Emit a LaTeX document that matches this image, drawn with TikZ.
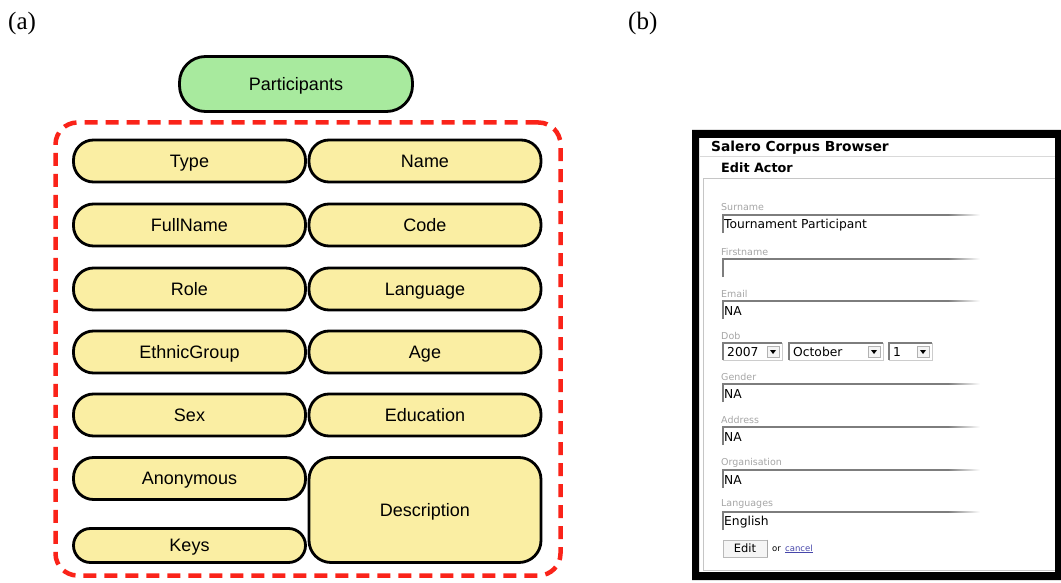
\documentclass[tikz,border=0pt]{standalone}
\usepackage{fontspec}
\setmainfont{Liberation Serif}
\newfontfamily\diafont{Liberation Sans}
\newfontfamily\webfont{DejaVu Sans}
\definecolor{fieldyellow}{RGB}{250,238,163}
\definecolor{entitygreen}{RGB}{168,234,158}
\definecolor{groupred}{RGB}{250,35,25}
\definecolor{labelgray}{RGB}{165,165,165}
\definecolor{edgegray}{RGB}{125,125,125}
\definecolor{linkblue}{RGB}{70,70,170}

% one text input of the form: name, label, y of its top edge, value
\newcommand\inputfield[4]{%
  \node[formlabel] (#1-label) at (721,#3-7.5) {#2};
  \draw[inputedge] (723,#3+18) -- (723,#3) -- (948,#3);
  \shade[left color=edgegray, right color=white] (948,#3-0.6) rectangle (980,#3+0.6);
  \node[formvalue] (#1-value) at (724,#3+10) {#4};
}
% one drop-down list: name, left x, right x, value
\newcommand\dropdown[4]{%
  \draw[inputedge] (#2,360) -- (#2,343) -- (#3,343);
  \draw[gray!40, line width=0.8pt] (#3,343) -- (#3,360) -- (#2,360);
  \draw[gray!60, fill=gray!8, line width=0.6pt] (#3-15,346) rectangle (#3-3,357);
  \fill (#3-12,350) -- (#3-6,350) -- (#3-9,354) -- cycle;
  \node[formvalue] (#1) at (#2+4,352) {#4};
}

\begin{document}
\begin{tikzpicture}[x=1pt,y=-1pt,
  panel/.style={font=\diafont\fontsize{18}{20}\selectfont, text=black, align=center, inner sep=0pt,
    text height=12.9pt, text depth=0pt},
  field/.style={panel, draw=black, line width=2.8pt, fill=fieldyellow, rounded corners=20pt,
    minimum width=232pt, minimum height=42pt},
  entity/.style={panel, draw=black, line width=2.8pt, fill=entitygreen, rounded corners=26pt,
    minimum width=233pt, minimum height=55pt},
  group/.style={draw=groupred, line width=4.5pt, dash pattern=on 13pt off 8pt, rounded corners=22pt,
    minimum width=505pt, minimum height=453pt, inner sep=0pt},
  caption/.style={font=\fontsize{25}{28}\selectfont, inner sep=0pt, anchor=base west},
  formlabel/.style={font=\webfont\fontsize{9.5}{11}\selectfont, text=labelgray, anchor=west, inner sep=0pt},
  formvalue/.style={font=\webfont\fontsize{12.3}{14}\selectfont, text=black, anchor=west, inner sep=0pt},
  inputedge/.style={draw=edgegray, line width=1.1pt},
]
\useasboundingbox (0,0) rectangle (1061,583);

% captions
\node[caption] (capa) at (8,30) {(a)};
\node[caption] (capb) at (628,30) {(b)};

% (a) the Participants entity and its fields
\node[entity] (participants) at (296,84) {Participants};
\node[group] (fields) at (308,349) {};

\node[field] (type)      at (189.5,161) {Type};
\node[field] (name)      at (425,161)   {Name};
\node[field] (fullname)  at (189.5,225) {FullName};
\node[field] (code)      at (425,225)   {Code};
\node[field] (role)      at (189.5,289) {Role};
\node[field] (language)  at (425,289)   {Language};
\node[field] (ethnic)    at (189.5,352) {EthnicGroup};
\node[field] (age)       at (425,352)   {Age};
\node[field] (sex)       at (189.5,415) {Sex};
\node[field] (education) at (425,415)   {Education};
\node[field] (anonymous) at (189.5,478.5) {Anonymous};
\node[field, minimum height=34pt, rounded corners=17pt] (keys) at (189.5,545.5) {Keys};
\node[field, minimum height=105pt, rounded corners=22pt] (description) at (425,510) {Description};

% (b) the edit form of the corpus browser
\fill[black, even odd rule] (692,130) rectangle (1061,580) (699,138) rectangle (1055,572);
\draw[gray!30, line width=0.8pt] (700,156) -- (1055,156);
\node[font=\webfont\bfseries\fontsize{13.8}{15}\selectfont, anchor=west, inner sep=0pt] (browser) at (711,148) {Salero Corpus Browser};
\node[font=\webfont\bfseries\fontsize{12.8}{14}\selectfont, anchor=west, inner sep=0pt] (editactor) at (721,168) {Edit Actor};
\draw[gray!45, line width=0.8pt] (1055,178) -- (703,178) -- (703,570) -- (1055,570);

\inputfield{surname}{Surname}{215}{Tournament Participant}
\inputfield{firstname}{Firstname}{259}{}
\inputfield{email}{Email}{301}{NA}
\node[formlabel] (dob-label) at (721,336) {Dob};
\dropdown{year}{723}{782}{2007}
\dropdown{month}{789}{883}{October}
\dropdown{day}{889}{932}{1}
\inputfield{gender}{Gender}{384}{NA}
\inputfield{address}{Address}{427}{NA}
\inputfield{organisation}{Organisation}{470}{NA}
\inputfield{languages}{Languages}{512}{English}

\node[draw=gray!55, fill=gray!8, line width=0.7pt, minimum width=44pt, minimum height=17pt, inner sep=0pt,
  font=\webfont\fontsize{11.5}{13}\selectfont] (editbtn) at (745,548.5) {Edit};
\draw[gray!70, line width=1.2pt] (editbtn.north east) -- (editbtn.south east);
\node[font=\webfont\fontsize{8.5}{10}\selectfont, anchor=west, inner sep=0pt] (or) at (772,549) {or};
\node[font=\webfont\fontsize{8.5}{10}\selectfont, text=linkblue, anchor=west, inner sep=0pt] (cancel) at (785,549) {\underline{cancel}};
\end{tikzpicture}
\end{document}
